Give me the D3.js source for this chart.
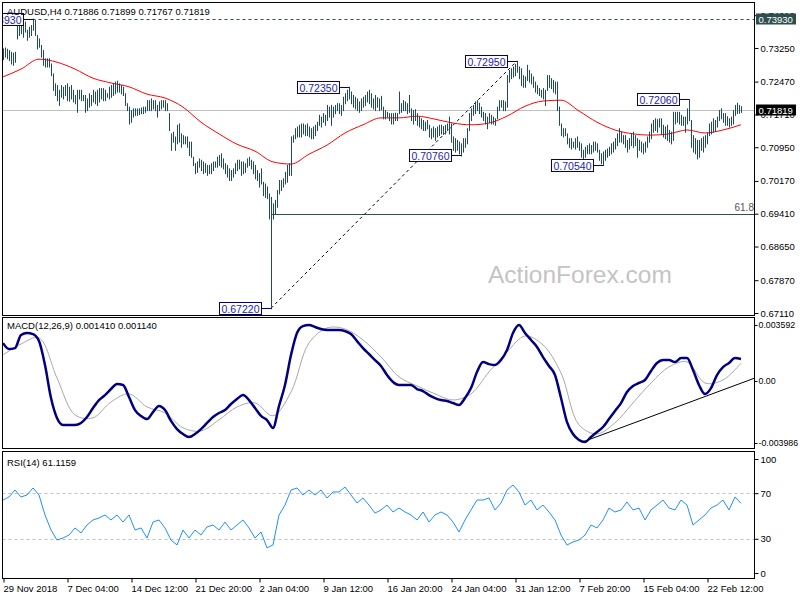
<!DOCTYPE html>
<html><head><meta charset="utf-8">
<script src="https://cdn.jsdelivr.net/npm/d3@7"></script>
<style>body{margin:0;background:#fff}svg{display:block}text{font-family:"Liberation Sans",Arial,sans-serif}</style>
</head><body><svg id="c" width="800" height="600"></svg>
<script>
// ---------------- DATA ----------------
const symbolLabel = "AUDUSD,H4";
const lastOHLC = ["0.71886", "0.71899", "0.71767", "0.71819"];
const lastClose = 0.71819;
// H4 bar highs / lows in pips (price * 10000)
const barHigh = [
7324,7326,7323,7320,7316,7314,7316,7382,7378,7390, 7382,7386,7367,7374,7378,7393,7390,7355,7347,7332,
7320,7301,7301,7301,7289,7266,7243,7239,7228,7239, 7235,7239,7243,7235,7239,7228,7216,7228,7228,7228,
7216,7216,7208,7220,7216,7228,7224,7228,7232,7232, 7232,7228,7220,7235,7239,7243,7247,7249,7243,7239,
7235,7220,7197,7189,7181,7185,7185,7185,7185,7187, 7189,7189,7204,7204,7208,7204,7204,7193,7201,7204,
7204,7204,7197,7174,7127,7131,7120,7147,7150,7127, 7123,7120,7120,7108,
7108,7073,7058,7062,7069,7066,7062,7058,7054,7054, 7058,7062,7062,7073,7077,7081,7069,7058,7054,7046,
7042,7046,7058,7066,7066,7062,7062,7058,7069,7073, 7066,7062,7054,7042,7035,7046,7015,7011,7004,6988,
6980,6965,6973,6996,7019,7019,7023,7038,7054,7058, 7120,7123,7139,7143,7147,7150,7150,7147,7150,7143,
7139,7143,7147,7154,7170,7166,7174,7170,7193,7189, 7193,7189,7193,7197,7197,7193,7212,7220,7228,7235,
7224,7216,7212,7208,7201,7208,7212,7216,7224,7228, 7220,7208,7216,
7211,7208,7214,7189,7181,7177,7174,7174,7174,7175, 7174,7224,7197,7204,7201,7197,7216,7185,7181,7183,
7174,7166,7162,7158,7154,7158,7147,7139,7143,7139, 7143,7147,7147,7144,7147,7150,7166,7150,7120,7116,
7112,7108,7104,7116,7116,7139,7174,7185,7193,7201, 7204,7198,7189,7177,7174,7166,7174,7170,7166,7162,
7189,7204,7204,7204,7201,7262,7274,7278,7282,7288, 7295,7282,7278,7262,7259,7286,7274,7266,7259,7247,
7239,7232,7228,7232,7228,7262,7262,7255,7251,7247, 7247,7189,
7150,7139,7139,7127,7116,7116,7108,7116,7120,7108, 7104,7089,7096,7100,7104,7100,7108,7108,7104,7089,
7081,7085,7089,7092,7096,7104,7108,7116,7127,7139, 7131,7123,7123,7112,7116,7127,7131,7123,7116,7112,
7108,7104,7108,7120,7131,7150,7158,7162,7160,7162, 7162,7147,7143,7147,7135,7131,7177,7177,7177,7177,
7170,7166,7166,7185,7206,7158,7123,7116,7112,7112, 7116,7120,7123,7129,7150,7154,7162,7158,7166,7181,
7185,7174,7174,7167,7162,7166,7181,7193,7198,7193, 7190
];
const barLow = [
7299,7305,7301,7297,7289,7286,7293,7347,7355,7359, 7351,7363,7344,7351,7355,7367,7355,7324,7328,7305,
7286,7282,7282,7282,7262,7228,7216,7204,7193,7212, 7208,7216,7204,7203,7208,7201,7197,7177,7208,7204,
7204,7177,7181,7189,7193,7201,7197,7193,7201,7208, 7204,7204,7212,7208,7212,7216,7220,7224,7224,7220,
7216,7193,7181,7150,7154,7166,7170,7170,7172,7174, 7174,7177,7181,7181,7181,7185,7181,7166,7181,7185,
7189,7181,7181,7135,7089,7108,7089,7104,7108,7096, 7104,7104,7096,7077,
7073,7054,7035,7038,7050,7042,7035,7038,7031,7035, 7035,7042,7050,7050,7054,7050,7046,7035,7027,7019,
7019,7027,7035,7042,7046,7031,7035,7038,7050,7054, 7046,7035,7023,7019,7004,7011,6984,6980,6977,6930,
6722,6930,6942,6957,6988,6996,7004,7011,7015,7031, 7031,7108,7116,7120,7120,7120,7127,7123,7123,7120,
7116,7116,7123,7135,7147,7143,7154,7147,7158,7166, 7147,7166,7174,7181,7174,7170,7181,7197,7204,7208,
7197,7189,7185,7181,7177,7181,7189,7193,7201,7197, 7189,7185,7181,
7189,7181,7183,7162,7162,7166,7158,7150,7150,7158, 7158,7174,7177,7181,7181,7174,7177,7158,7150,7158,
7147,7143,7139,7135,7135,7139,7120,7116,7120,7112, 7120,7123,7127,7126,7127,7135,7127,7108,7089,7085,
7089,7081,7076,7085,7096,7104,7135,7158,7170,7174, 7181,7174,7166,7158,7150,7139,7154,7150,7150,7147,
7162,7181,7189,7181,7181,7189,7247,7255,7259,7262, 7270,7255,7239,7235,7235,7251,7247,7243,7235,7224,
7220,7216,7212,7208,7193,7228,7235,7232,7224,7220, 7181,7147,
7123,7120,7123,7104,7096,7092,7096,7092,7096,7089, 7073,7069,7073,7081,7081,7081,7085,7089,7085,7066,
7058,7054,7066,7073,7077,7081,7085,7092,7100,7108, 7108,7104,7096,7085,7092,7100,7096,7100,7073,7089,
7085,7081,7085,7096,7108,7116,7131,7135,7131,7143, 7127,7120,7116,7112,7108,7104,7112,7150,7154,7150,
7147,7147,7131,7150,7158,7096,7085,7081,7069,7073, 7089,7085,7096,7104,7123,7127,7131,7133,7143,7158,
7162,7154,7147,7147,7143,7147,7150,7170,7174,7175, 7177
];
// moving average (pips), one value every 9 bars
const maStep = 9;
const maValues = [7258,7276,7299,7292,7276,7255,7244,7235,7218,7209,7188,7153,7126,7102,7086,7061,7056,7079,7100,7128,
7147,7163,7163,7167,7160,7151,7147,7151,7167,7190,7202,7204,7179,7153,7135,7126,7123,7126,7135,7128,7135,7147];
// MACD(12,26,9) main line, one value every 3 bars
const macdStep = 3;
const macdMain = [
0.00243,0.00205,0.00211,0.00295,0.00308,0.00301,0.00256,0.00102,-0.00110,-0.00238,
-0.00283,-0.00283,-0.00283,-0.00270,-0.00232,-0.00174,-0.00123,-0.00091,-0.00052,-0.00020,
-0.00026,-0.00103,-0.00187,-0.00225,-0.00245,-0.00200,-0.00161,-0.00187,-0.00257,-0.00309,
-0.00341,-0.00360,-0.00341,-0.00309,-0.00270,-0.00232,-0.00206,-0.00187,-0.00148,-0.00116,
-0.00091,-0.00123,-0.00174,-0.00225,-0.00251,-0.00302,-0.00161,-0.00026,0.00166,0.00308,
0.00352,0.00359,0.00346,0.00333,0.00327,0.00327,0.00327,0.00320,0.00301,0.00256,
0.00211,0.00173,0.00134,0.00096,0.00038,-0.00007,-0.00026,-0.00026,-0.00026,-0.00052,
-0.00065,-0.00091,-0.00110,-0.00123,-0.00129,-0.00142,-0.00155,-0.00110,-0.00046,0.00057,
0.00121,0.00108,0.00102,0.00134,0.00198,0.00308,0.00359,0.00308,0.00263,0.00218,
0.00153,0.00096,0.00038,-0.00110,-0.00264,-0.00341,-0.00379,-0.00392,-0.00360,-0.00328,
-0.00296,-0.00245,-0.00193,-0.00142,-0.00071,-0.00033,-0.00013,0.00006,0.00064,0.00115,
0.00134,0.00134,0.00121,0.00147,0.00147,0.00070,-0.00026,-0.00084,-0.00046,0.00038,
0.00089,0.00115,0.00147,0.00141];
// MACD signal line, one value every 9 bars
const signalStep = 9;
const macdSignal = [0.00167,0.00237,0.00276,0.00019,-0.00218,-0.00237,-0.00135,-0.00083,-0.00167,-0.00205,
-0.00301,-0.00321,-0.00250,-0.00167,-0.00141,-0.00224,-0.00071,0.00244,0.00340,0.00334,
0.00263,0.00154,0.00026,-0.00032,-0.00083,-0.00122,-0.00083,0.00058,0.00186,0.00289,
0.00231,0.00051,-0.00282,-0.00340,-0.00269,-0.00141,-0.00013,0.00090,0.00122,-0.00013,0.00006,0.00114];
// RSI(14), one value every 3 bars
const rsiStep = 3;
const rsiValues = [
64.0,66.7,72.8,66.7,68.4,74.6,68.4,50.9,37.7,28.9,
30.7,33.3,39.5,35.1,42.1,46.5,48.2,50.9,46.5,50.9,
44.7,50.9,37.7,39.5,30.7,44.7,46.5,39.5,28.9,24.6,
37.7,30.7,37.7,33.3,40.4,42.1,37.7,44.7,37.7,42.1,
46.5,39.5,30.7,36.0,22.0,24.6,50.9,59.6,72.8,74.6,
68.4,72.8,68.4,72.8,65.8,71.1,71.1,75.4,68.4,61.4,
65.8,59.6,52.6,55.3,59.6,53.5,57.0,53.5,50.9,46.5,
53.5,44.7,50.9,53.5,50.9,44.7,36.0,46.5,55.3,64.0,
64.0,65.8,55.3,61.4,72.8,77.2,71.1,59.6,64.0,55.3,
59.6,53.5,46.5,33.3,24.6,27.2,28.9,33.3,42.1,39.5,
46.5,57.0,53.5,55.3,62.3,55.3,57.0,46.5,55.3,59.6,
64.0,57.0,55.3,64.0,59.6,42.1,46.5,50.9,57.0,59.6,
64.0,55.3,66.7,61.1];
const priceTicks = [0.74010,0.73250,0.72470,0.71710,0.70950,0.70170,0.69410,0.68650,0.67870,0.67110];
const timeLabels = ["29 Nov 2018","7 Dec 04:00","14 Dec 12:00","21 Dec 20:00","2 Jan 04:00","9 Jan 12:00",
"16 Jan 20:00","24 Jan 04:00","31 Jan 12:00","7 Feb 20:00","15 Feb 04:00","22 Feb 12:00"];
const timeTickStep = 32;
const pivotIdx = [15,134,173,229,257,300,343];
const pivotVal = [0.73930,0.67220,0.72350,0.70760,0.72950,0.70540,0.72060];
const highLevel = 0.73930;
const fibLevel = 0.69410, fibText = "61.8", fibStartIdx = 134;
const swingIdx = [134, 257], swingVal = [0.67220, 0.72950];
const macdTrendIdx = [290, 376], macdTrendVal = [-0.00391, 0.00019];
const macdAxis = [0.003592, 0, -0.003986];
const macdAxisText = ["0.003592", "0.00", "-0.003986"];
const rsiLevels = [70, 30];
const rsiTicks = [100, 70, 30, 0];
const rsiLast = "61.1159";
const macdLast = ["0.001410", "0.001140"];

// ---------------- LAYOUT ----------------
const svg = d3.select("#c");
const L = 2.5, R = 754.5;
const P1 = {t: 2.5, b: 315.5}, P2 = {t: 317.5, b: 448.5}, P3 = {t: 451.5, b: 578.5};
const x = d3.scaleLinear().domain([0, 369]).range([3, 741]);
const y = d3.scaleLinear().domain([0.67110, 0.73930]).range([313, 18.6]);
const ym = d3.scaleLinear().domain([-0.003986, 0.003592]).range([443, 325]);
const yr = d3.scaleLinear().domain([0, 100]).range([573, 459]);
const px = v => Math.round(x(v)) + 0.5;

const defs = svg.append("defs");
[["c1",P1],["c2",P2],["c3",P3]].forEach(([id,p]) => {
  defs.append("clipPath").attr("id", id).append("rect")
    .attr("x", L).attr("y", p.t).attr("width", R - L).attr("height", p.b - p.t);
});

// ---- main panel ----
const g1 = svg.append("g").attr("clip-path", "url(#c1)");
g1.append("text").attr("x", 488).attr("y", 283).attr("font-size", 24.5).attr("fill", "#c4c4c4").text("ActionForex.com");
g1.append("line").attr("x1", L).attr("x2", R).attr("y1", Math.round(y(highLevel))+0.5).attr("y2", Math.round(y(highLevel))+0.5)
  .attr("stroke", "#2f4f4f").attr("stroke-dasharray", "3,3");
g1.append("line").attr("x1", L).attr("x2", R).attr("y1", Math.round(y(lastClose))+0.5).attr("y2", Math.round(y(lastClose))+0.5)
  .attr("stroke", "#c0c0c0");
g1.append("line").attr("x1", px(fibStartIdx)).attr("x2", R).attr("y1", Math.round(y(fibLevel))+0.5).attr("y2", Math.round(y(fibLevel))+0.5)
  .attr("stroke", "#2f4f4f");
g1.append("text").attr("x", R - 20).attr("y", y(fibLevel) - 3).attr("font-size", 10).attr("fill", "#555").text(fibText);
g1.append("line").attr("x1", x(swingIdx[0])).attr("y1", y(swingVal[0])).attr("x2", x(swingIdx[1])).attr("y2", y(swingVal[1]))
  .attr("stroke", "#000").attr("stroke-dasharray", "3,3");
g1.append("path").datum(maValues).attr("fill", "none").attr("stroke", "#ff0000").attr("stroke-width", 1)
  .attr("d", d3.line().x((d,i) => x(i*maStep)).y(d => y(d/10000)).curve(d3.curveMonotoneX));
g1.append("g").selectAll("line").data(barHigh).join("line")
  .attr("x1", (d,i) => px(i)).attr("x2", (d,i) => px(i))
  .attr("y1", d => y(d/10000)).attr("y2", (d,i) => y(barLow[i]/10000) + 1)
  .attr("stroke", "#1d4a64").attr("stroke-width", 1);
pivotIdx.forEach((pi, k) => {
  const bx = x(pi), by = Math.round(y(pivotVal[k])) + 0.5;
  const w = 42, h = 12, right = Math.round(bx - 10) + 0.5;
  g1.append("line").attr("x1", right).attr("x2", Math.round(bx)+0.5).attr("y1", by).attr("y2", by).attr("stroke", "#000080");
  g1.append("rect").attr("x", right - w).attr("y", by - h/2).attr("width", w).attr("height", h)
    .attr("fill", "#fff").attr("stroke", "#000080");
  g1.append("text").attr("x", right - w/2).attr("y", by + 4).attr("text-anchor", "middle")
    .attr("font-size", 10.5).attr("fill", "#2222b0").text(pivotVal[k].toFixed(5));
});
svg.append("text").attr("x", 7).attr("y", 15).attr("font-size", 9.5).attr("fill", "#000")
  .text(symbolLabel + "  " + lastOHLC.join(" "));

// ---- MACD panel ----
const g2 = svg.append("g").attr("clip-path", "url(#c2)");
g2.append("path").datum(macdSignal).attr("fill", "none").attr("stroke", "#a8a8a8").attr("stroke-width", 1)
  .attr("d", d3.line().x((d,i) => x(i*signalStep)).y(d => ym(d)).curve(d3.curveCatmullRom));
g2.append("path").datum(macdMain).attr("fill", "none").attr("stroke", "#000080").attr("stroke-width", 2.5)
  .attr("stroke-linejoin", "round")
  .attr("d", d3.line().x((d,i) => x(i*macdStep)).y(d => ym(d)).curve(d3.curveMonotoneX));
g2.append("line").attr("x1", x(macdTrendIdx[0])).attr("y1", ym(macdTrendVal[0])).attr("x2", x(macdTrendIdx[1])).attr("y2", ym(macdTrendVal[1]))
  .attr("stroke", "#000").attr("stroke-width", 1);
svg.append("text").attr("x", 7).attr("y", 329).attr("font-size", 9.5).text("MACD(12,26,9) " + macdLast.join(" "));

// ---- RSI panel ----
const g3 = svg.append("g").attr("clip-path", "url(#c3)");
rsiLevels.forEach(l => g3.append("line").attr("x1", L).attr("x2", R).attr("y1", Math.round(yr(l))+0.5).attr("y2", Math.round(yr(l))+0.5)
  .attr("stroke", "#c0c0c0").attr("stroke-dasharray", "3,3"));
g3.append("path").datum(rsiValues).attr("fill", "none").attr("stroke", "#1e90ff").attr("stroke-width", 1)
  .attr("d", d3.line().x((d,i) => x(i*rsiStep)).y(d => yr(d)));
svg.append("text").attr("x", 7).attr("y", 466).attr("font-size", 9.5).text("RSI(14) " + rsiLast);

// ---- frames ----
[P1, P2, P3].forEach(p => svg.append("rect").attr("x", L).attr("y", p.t).attr("width", R - L).attr("height", p.b - p.t)
  .attr("fill", "none").attr("stroke", "#000"));

// ---- right axes ----
const ax1 = svg.append("g").attr("transform", `translate(${R},0)`)
  .call(d3.axisRight(y).tickValues(priceTicks).tickFormat(d3.format(".5f")).tickSize(4).tickPadding(2));
const ax2 = svg.append("g").attr("transform", `translate(${R},0)`)
  .call(d3.axisRight(ym).tickValues(macdAxis).tickFormat((d,i) => macdAxisText[i]).tickSize(3).tickPadding(1));
const ax3 = svg.append("g").attr("transform", `translate(${R},0)`)
  .call(d3.axisRight(yr).tickValues(rsiTicks).tickSize(4).tickPadding(2));
[ax1, ax3].forEach(a => a.selectAll("text").attr("font-size", 9.5));
ax2.selectAll("text").attr("font-size", 8.8);
[ax1, ax2, ax3].forEach(a => {
  a.select(".domain").remove();
  a.selectAll("text").attr("fill", "#000").attr("font-family", "Liberation Sans, Arial, sans-serif");
  a.selectAll("line").attr("stroke", "#000");
});
function badge(v, fill) {
  const yy = Math.round(y(v));
  svg.append("rect").attr("x", R + 1.5).attr("y", yy - 5.5).attr("width", 40).attr("height", 11).attr("fill", fill);
  svg.append("text").attr("x", R + 4).attr("y", yy + 3.5).attr("font-size", 9.5).attr("fill", "#fff").text(v.toFixed(5));
}
badge(highLevel, "#2f4f4f");
badge(lastClose, "#000");

// ---- time axis ----
const tickIdx = timeLabels.map((d,i) => i * timeTickStep);
const axb = svg.append("g").attr("transform", `translate(0,${P3.b})`)
  .call(d3.axisBottom(x).tickValues(tickIdx).tickFormat((d,i) => timeLabels[i]).tickSize(4).tickPadding(3));
axb.select(".domain").remove();
axb.selectAll("line").attr("stroke", "#000").attr("transform", "translate(0.5,0)");
axb.selectAll("text").attr("text-anchor", "start").attr("dx", 0).attr("font-size", 9.5).attr("fill", "#000")
  .attr("font-family", "Liberation Sans, Arial, sans-serif");
</script></body></html>
